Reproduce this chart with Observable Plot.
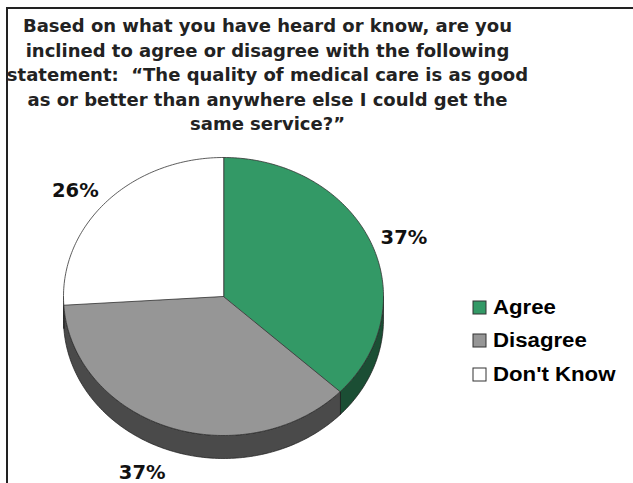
<!DOCTYPE html>
<html><head><meta charset="utf-8">
<script src="https://cdn.jsdelivr.net/npm/d3@7"></script>
<script src="https://cdn.jsdelivr.net/npm/@observablehq/plot@0.6"></script>
<style>
html,body{margin:0;padding:0;background:#fff}
body{width:633px;height:483px;overflow:hidden;position:relative}
#frame{position:absolute;left:6px;top:7px;width:700px;height:600px;border-left:2px solid #222;border-top:2px solid #222;box-sizing:border-box}
#title{position:absolute;top:14px;left:0;width:535px;text-align:center;white-space:nowrap;font:bold 18px/24.6px "DejaVu Sans";color:#222}
#chart{position:absolute;left:0;top:140px}
#legend{position:absolute;left:473px;top:291px}
</style></head>
<body>
<div id="frame"></div>
<div id="title">Based on what you have heard or know, are you<br>inclined to agree or disagree with the following<br>statement:&nbsp; “The quality of medical care is as good<br>as or better than anywhere else I could get the<br>same service?”</div>
<div id="chart"></div>
<div id="legend"></div>
<script>
const categories = ["Agree", "Disagree", "Don't Know"];
const values = [37, 37, 26];
const labels = ["37%", "37%", "26%"];
const topColors = ["#339966", "#969696", "#ffffff"];
const sideColors = ["#1b4e34", "#4a4a4a", "#9a9a9a"];

const W = 633, H = 343;
const depth = 23 / 139; // pie thickness in y-units
const arcs = d3.pie().sort(null).value(d => d)(values);

const topPts = [];
const sidePts = [];
const step = Math.PI / 180;
arcs.forEach((a, i) => {
  topPts.push({x: 0, y: 0, k: i, c: topColors[i]});
  for (let t = a.startAngle; t < a.endAngle; t += step) topPts.push({x: Math.sin(t), y: -Math.cos(t), k: i, c: topColors[i]});
  topPts.push({x: Math.sin(a.endAngle), y: -Math.cos(a.endAngle), k: i, c: topColors[i]});
  const s = Math.max(a.startAngle, Math.PI / 2), e = Math.min(a.endAngle, 3 * Math.PI / 2);
  if (e > s) {
    const ring = [];
    for (let t = s; t < e; t += step) ring.push(t);
    ring.push(e);
    ring.forEach(t => sidePts.push({x: Math.sin(t), y: -Math.cos(t), k: i, c: sideColors[i]}));
    ring.slice().reverse().forEach(t => sidePts.push({x: Math.sin(t), y: -Math.cos(t) + depth, k: i, c: sideColors[i]}));
  }
});

const labelData = arcs.map((a, i) => {
  const m = (a.startAngle + a.endAngle) / 2;
  const r = 1.07;
  const sx = Math.sin(m), cy = -Math.cos(m);
  const low = cy > 0.5;
  return {
    x: sx * r,
    y: low ? cy * r + depth + 0.095 : cy * r - (cy < 0 && sx < 0 ? 0.03 : 0),
    text: labels[i],
    anchor: sx >= 0 ? "start" : "end"
  };
});
const anchors = Array.from(new Set(labelData.map(d => d.anchor)));

const plot = Plot.plot({
  width: W, height: H, margin: 0,
  x: {domain: [-1, 1], range: [63, 383], axis: null},
  y: {domain: [-1, 1], range: [17, 295], axis: null},
  color: {type: "identity"},
  style: {background: "transparent", overflow: "visible"},
  marks: [
    Plot.line(sidePts, {x: "x", y: "y", z: "k", fill: "c", stroke: "#1a1a1a", strokeWidth: 0.7, curve: "linear-closed"}),
    Plot.line(topPts, {x: "x", y: "y", z: "k", fill: "c", stroke: "#333", strokeWidth: 0.8, curve: "linear-closed"}),
    ...anchors.map(anchor => Plot.text(labelData.filter(d => d.anchor === anchor), {
      x: "x", y: "y", text: "text", textAnchor: anchor, lineAnchor: "middle",
      fontFamily: "DejaVu Sans", fontWeight: "bold", fontSize: 19.5, fill: "#111"
    }))
  ]
});
document.getElementById("chart").appendChild(plot);

const legend = Plot.legend({
  color: {type: "ordinal", domain: categories, range: topColors},
  legend: "swatches",
  columns: 1,
  swatchSize: 13
});
const setImp = (el, props) => Object.entries(props).forEach(([k, v]) => el.style.setProperty(k, v, "important"));
const fontProps = {"font-family": "'Liberation Sans', Arial, sans-serif", "font-weight": "700", "font-size": "20px", "color": "#000"};
setImp(legend, {...fontProps, "margin": "0", "min-height": "0"});
legend.querySelectorAll("div").forEach(el => setImp(el, fontProps));
legend.querySelectorAll("svg").forEach(svg => {
  const item = svg.parentElement;
  setImp(item, {"height": "33.3px", "padding": "0", "margin": "0", "display": "flex", "align-items": "center"});
  setImp(svg, {"margin-right": "7px", "overflow": "visible"});
  svg.querySelectorAll("rect").forEach(r => { r.setAttribute("stroke", "#333"); r.setAttribute("stroke-width", "1"); });
  const lab = svg.nextElementSibling;
  if (lab) setImp(lab, {"display": "inline-block", "overflow": "visible", "transform": "scaleX(1.11)", "transform-origin": "left center"});
});
document.getElementById("legend").appendChild(legend);
</script>
</body></html>
